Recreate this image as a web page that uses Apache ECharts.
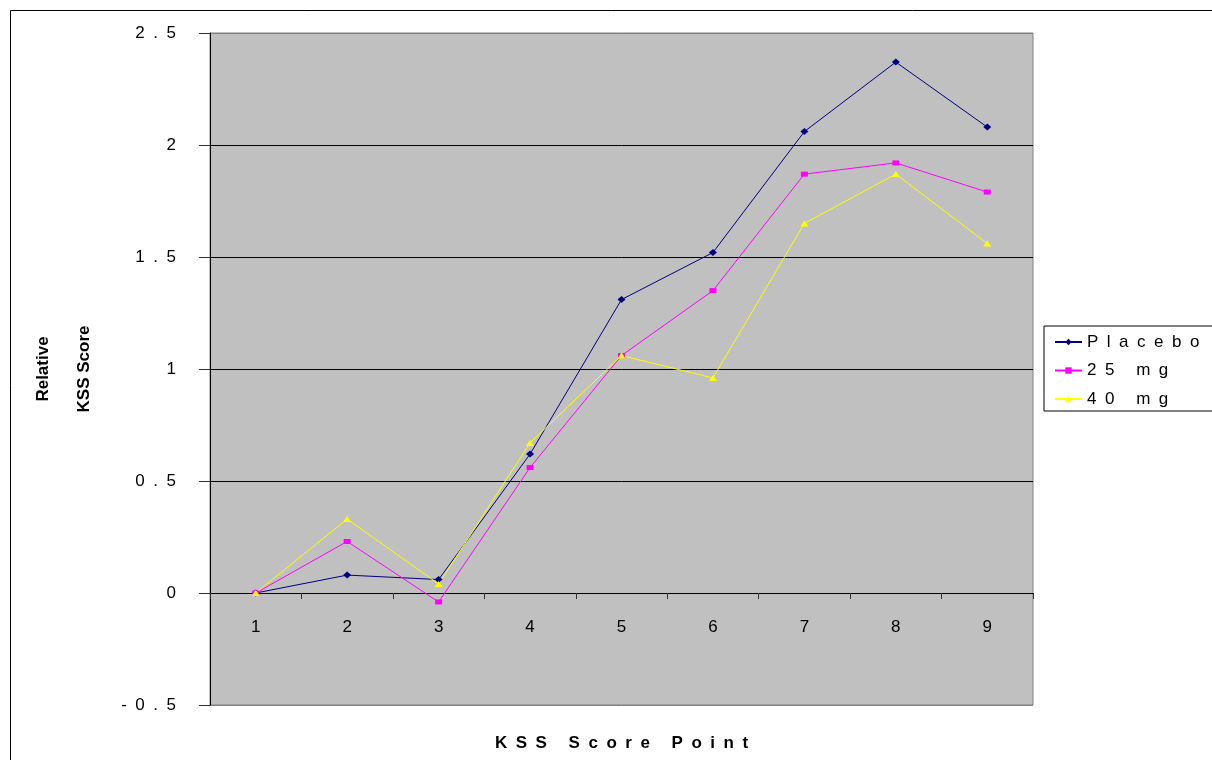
<!DOCTYPE html>
<html><head><meta charset="utf-8">
<script src="https://cdn.jsdelivr.net/npm/echarts@6/dist/echarts.min.js"></script>
<style>html,body{margin:0;padding:0;background:#fff}#c{width:1212px;height:760px}</style>
</head><body><div id="c"></div>
<script>
const categories = ['1','2','3','4','5','6','7','8','9'];
const placebo = [0, 0.08, 0.06, 0.62, 1.31, 1.52, 2.06, 2.37, 2.08];
const mg25 = [0, 0.23, -0.04, 0.56, 1.06, 1.35, 1.87, 1.92, 1.79];
const mg40 = [0, 0.33, 0.04, 0.67, 1.06, 0.96, 1.65, 1.87, 1.56];
const seriesNames = ['Placebo', '25 mg', '40 mg'];
const yMin = -0.5, yMax = 2.5, yStep = 0.5;
const xTitle = 'KSS Score Point';
const yTitleLines = ['Relative', 'KSS Score'];

const FONT = '"Liberation Sans", Arial, sans-serif';
const sp = s => String(s).split('').join('\u2002');

const chart = echarts.init(document.getElementById('c'), null, {renderer: 'canvas'});
chart.setOption({
  animation: false,
  backgroundColor: '#fff',
  textStyle: {fontFamily: FONT},
  graphic: [
    {type: 'rect', shape: {x: 10.5, y: 10.5, width: 1300, height: 800}, style: {fill: 'none', stroke: '#000', lineWidth: 1}, z: 0, silent: true},
    {type: 'text', x: 43, y: 369, rotation: Math.PI / 2, style: {text: yTitleLines[0], font: 'bold 17px ' + FONT, fill: '#000', align: 'center', verticalAlign: 'middle'}},
    {type: 'text', x: 84, y: 369, rotation: Math.PI / 2, style: {text: yTitleLines[1], font: 'bold 17px ' + FONT, fill: '#000', align: 'center', verticalAlign: 'middle'}}
  ],
  grid: {left: 210, right: 179, top: 33, bottom: 55, containLabel: false, outerBoundsMode: 'none',
    show: true, backgroundColor: '#C0C0C0', borderColor: '#808080', borderWidth: 1},
  legend: {
    orient: 'vertical', left: 1044, top: 326,
    data: seriesNames,
    backgroundColor: '#fff', borderColor: '#000', borderWidth: 1, borderRadius: 0,
    padding: [7.5, 20, 3.5, 10],
    itemWidth: 27, itemHeight: 8, itemGap: 11.5,
    formatter: n => sp(n),
    textStyle: {fontSize: 17, color: '#000', fontFamily: FONT}
  },
  xAxis: {
    type: 'category', data: categories, boundaryGap: true,
    name: sp(xTitle), nameLocation: 'middle', nameGap: 30,
    nameTextStyle: {fontSize: 17, fontWeight: 'bold', color: '#000', fontFamily: FONT},
    axisLine: {show: true, onZero: true, lineStyle: {color: '#000', width: 1}},
    axisTick: {show: true, length: 6, alignWithLabel: false, lineStyle: {color: '#333'}},
    axisLabel: {margin: -86, fontSize: 17, color: '#000', fontFamily: FONT},
    splitLine: {show: false}
  },
  yAxis: {
    type: 'value', min: yMin, max: yMax, interval: yStep,
    axisLine: {show: true, lineStyle: {color: '#000', width: 1}},
    axisTick: {show: true, length: 11, inside: false, lineStyle: {color: '#333'}},
    axisLabel: {margin: 34, fontSize: 17, color: '#000', fontFamily: FONT, formatter: v => sp(String(v))},
    splitLine: {show: true, lineStyle: {color: ['#808080', '#000', '#000', '#000', '#000', '#000', '#808080'], width: 1}}
  },
  series: [
    {name: seriesNames[0], type: 'line', data: placebo, symbol: 'diamond', symbolSize: [8, 7],
      lineStyle: {color: '#000080', width: 1}, itemStyle: {color: '#000080'}},
    {name: seriesNames[1], type: 'line', data: mg25, symbol: 'rect', symbolSize: [7, 5],
      lineStyle: {color: '#FF00FF', width: 1}, itemStyle: {color: '#FF00FF'}},
    {name: seriesNames[2], type: 'line', data: mg40, symbol: 'triangle', symbolSize: [8, 6],
      lineStyle: {color: '#FFFF00', width: 1}, itemStyle: {color: '#FFFF00'}}
  ]
});
</script></body></html>
